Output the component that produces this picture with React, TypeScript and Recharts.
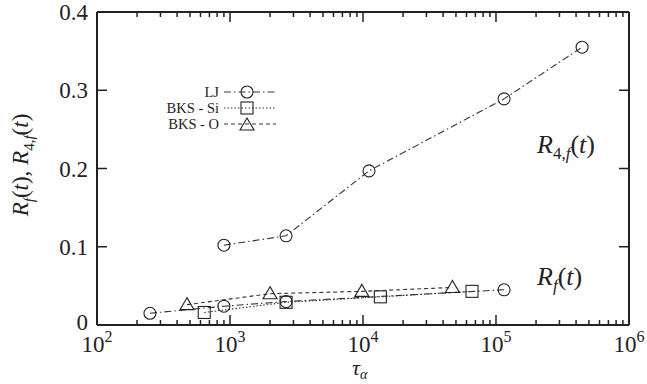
import React from "react";
import { ComposedChart, Scatter, XAxis, YAxis } from "recharts";

// values (tau_alpha on log scale)
const ljR4Tau = [900, 2640, 11100, 115000, 444000];
const ljR4Val = [0.102, 0.114, 0.197, 0.289, 0.355];
const ljRfTau = [250, 900, 2640, 115000];
const ljRfVal = [0.015, 0.024, 0.03, 0.045];
const siTau = [640, 2640, 13500, 66000];
const siVal = [0.016, 0.029, 0.036, 0.043];
const oTau = [475, 2000, 9800, 47000];
const oVal = [0.026, 0.04, 0.043, 0.048];

const xMajor = [100, 1000, 10000, 100000, 1000000];
const xMinor = [2, 3, 4, 5, 6, 7, 8, 9].flatMap((m) => [m * 100, m * 1000, m * 10000, m * 100000]);
const xTicks = [...xMajor, ...xMinor].sort((a, b) => a - b);
const yTicks = [0, 0.1, 0.2, 0.3, 0.4];
const yTickLabels = ["0", "0.1", "0.2", "0.3", "0.4"];

const zip = (xs: number[], ys: number[]) => xs.map((x, i) => ({ tau: x, r: ys[i] }));

const FONT = "'Liberation Serif', serif";
const DASH_LJ = "7 3 1.5 3";
const DASH_SI = "1.5 2";
const DASH_O = "4 3";

const Circle = (p: any) => (
  <circle cx={p.cx} cy={p.cy} r={6} fill="none" stroke="#222" strokeWidth={1.1} />
);
const Square = (p: any) => (
  <rect x={p.cx - 6} y={p.cy - 6} width={12} height={12} fill="none" stroke="#222" strokeWidth={1.1} />
);
const Triangle = (p: any) => (
  <polygon
    points={`${p.cx},${p.cy - 7} ${p.cx - 7},${p.cy + 5} ${p.cx + 7},${p.cy + 5}`}
    fill="none"
    stroke="#222"
    strokeWidth={1.1}
  />
);

const isMajor = (v: number) => xMajor.includes(v);

const BottomTick = ({ x, y, payload }: any) => {
  const v = payload.value;
  const major = isMajor(v);
  return (
    <g>
      <line x1={x} x2={x} y1={y} y2={y - (major ? 10 : 5)} stroke="#222" strokeWidth={1.5} />
      {major && (
        <text x={x} y={352} textAnchor="middle" style={{ fontFamily: FONT }} fontSize={23} fill="#222">
          10
          <tspan dy={-10} fontSize={16}>
            {Math.round(Math.log10(v))}
          </tspan>
        </text>
      )}
    </g>
  );
};

const TopTick = ({ x, y, payload }: any) => (
  <line x1={x} x2={x} y1={y} y2={y + (isMajor(payload.value) ? 10 : 5)} stroke="#222" strokeWidth={1.5} />
);

const LeftTick = ({ x, y, index }: any) => (
  <g>
    <line x1={x} x2={x + 10} y1={y} y2={y} stroke="#222" strokeWidth={1.5} />
    <text x={x - 9} y={index === 0 ? y + 5 : y + 8} textAnchor="end" style={{ fontFamily: FONT }} fontSize={23} fill="#222">
      {yTickLabels[index]}
    </text>
  </g>
);

const RightTick = ({ x, y }: any) => (
  <line x1={x} x2={x - 10} y1={y} y2={y} stroke="#222" strokeWidth={1.5} />
);

const legendRows = [
  { name: "LJ", dash: DASH_LJ, shape: "circle" },
  { name: "BKS - Si", dash: DASH_SI, shape: "square" },
  { name: "BKS - O", dash: DASH_O, shape: "triangle" },
];

function LegendSample({ dash, shape }: { dash: string; shape: string }) {
  return (
    <svg width={56} height={14} style={{ display: "block" }}>
      <line x1={2} x2={54} y1={7} y2={7} stroke="#333" strokeDasharray={dash} />
      {shape === "circle" && <Circle cx={25} cy={7} />}
      {shape === "square" && <Square cx={25} cy={7} />}
      {shape === "triangle" && <Triangle cx={25} cy={8} />}
    </svg>
  );
}

export default function App() {
  const axisLine = { stroke: "#222", strokeWidth: 2 };
  return (
    <div
      style={{
        position: "absolute",
        left: 0,
        top: 0,
        width: 647,
        height: 384,
        background: "#fff",
        fontFamily: FONT,
        color: "#222",
      }}
    >
      <ComposedChart width={647} height={384} margin={{ top: 0, right: 0, bottom: 0, left: 0 }}>
        <XAxis
          xAxisId="b"
          dataKey="tau"
          type="number"
          scale="log"
          domain={[100, 1000000]}
          allowDataOverflow
          ticks={xTicks}
          interval={0}
          height={59}
          tickSize={0}
          tickMargin={0}
          axisLine={axisLine}
          tickLine={false}
          tick={<BottomTick />}
        />
        <XAxis
          xAxisId="t"
          orientation="top"
          dataKey="tau"
          type="number"
          scale="log"
          domain={[100, 1000000]}
          allowDataOverflow
          ticks={xTicks}
          interval={0}
          height={12}
          tickSize={0}
          tickMargin={0}
          axisLine={axisLine}
          tickLine={false}
          tick={<TopTick />}
        />
        <YAxis
          yAxisId="l"
          dataKey="r"
          type="number"
          domain={[0, 0.4]}
          allowDataOverflow
          ticks={yTicks}
          interval={0}
          width={97}
          tickSize={0}
          tickMargin={0}
          axisLine={axisLine}
          tickLine={false}
          tick={<LeftTick />}
        />
        <YAxis
          yAxisId="r"
          orientation="right"
          dataKey="r"
          type="number"
          domain={[0, 0.4]}
          allowDataOverflow
          ticks={yTicks}
          interval={0}
          width={18}
          tickSize={0}
          tickMargin={0}
          axisLine={axisLine}
          tickLine={false}
          tick={<RightTick />}
        />
        <Scatter
          xAxisId="t"
          yAxisId="r"
          data={zip(ljR4Tau, ljR4Val)}
          shape={() => <g />}
          isAnimationActive={false}
        />
        <Scatter
          xAxisId="b"
          yAxisId="l"
          data={zip(ljR4Tau, ljR4Val)}
          line={{ stroke: "#333", strokeWidth: 1.1, strokeDasharray: DASH_LJ }}
          lineType="joint"
          shape={<Circle />}
          isAnimationActive={false}
        />
        <Scatter
          xAxisId="b"
          yAxisId="l"
          data={zip(ljRfTau, ljRfVal)}
          line={{ stroke: "#333", strokeWidth: 1.1, strokeDasharray: DASH_LJ }}
          lineType="joint"
          shape={<Circle />}
          isAnimationActive={false}
        />
        <Scatter
          xAxisId="b"
          yAxisId="l"
          data={zip(siTau, siVal)}
          line={{ stroke: "#333", strokeWidth: 1.1, strokeDasharray: DASH_SI }}
          lineType="joint"
          shape={<Square />}
          isAnimationActive={false}
        />
        <Scatter
          xAxisId="b"
          yAxisId="l"
          data={zip(oTau, oVal)}
          line={{ stroke: "#333", strokeWidth: 1.1, strokeDasharray: DASH_O }}
          lineType="joint"
          shape={<Triangle />}
          isAnimationActive={false}
        />
      </ComposedChart>

      {/* y axis title */}
      <div
        style={{
          position: "absolute",
          left: 23,
          top: 165,
          transform: "translate(-50%, -50%) rotate(-90deg)",
          whiteSpace: "nowrap",
          fontSize: 23,
          lineHeight: 1,
        }}
      >
        <i>R</i>
        <sub style={{ fontSize: 15 }}>
          <i>f</i>
        </sub>
        (<i>t</i>), <i>R</i>
        <sub style={{ fontSize: 15 }}>
          4,<i>f</i>
        </sub>
        (<i>t</i>)
      </div>

      {/* x axis title */}
      <div style={{ position: "absolute", left: 352, top: 357, fontSize: 22, lineHeight: 1, whiteSpace: "nowrap" }}>
        <i>τ</i>
        <sub style={{ fontSize: 14, lineHeight: 1, verticalAlign: "-4px" }}>
          <i>α</i>
        </sub>
      </div>

      {/* curve annotations */}
      <div style={{ position: "absolute", left: 537, top: 132, fontSize: 26, lineHeight: 1, whiteSpace: "nowrap" }}>
        <i>R</i>
        <sub style={{ fontSize: 17 }}>
          <span>4,</span>
          <i>f</i>
        </sub>
        (<i>t</i>)
      </div>
      <div style={{ position: "absolute", left: 537, top: 264, fontSize: 26, lineHeight: 1, whiteSpace: "nowrap" }}>
        <i>R</i>
        <sub style={{ fontSize: 17 }}>
          <i>f</i>
        </sub>
        (<i>t</i>)
      </div>

      {/* key */}
      <div style={{ position: "absolute", left: 120, top: 84, fontSize: 14.5, lineHeight: "16px" }}>
        {legendRows.map((row) => (
          <div
            key={row.name}
            style={{ display: "flex", alignItems: "center", justifyContent: "flex-end", width: 158, height: 16 }}
          >
            <span style={{ marginRight: 3 }}>{row.name}</span>
            <LegendSample dash={row.dash} shape={row.shape} />
          </div>
        ))}
      </div>
    </div>
  );
}
